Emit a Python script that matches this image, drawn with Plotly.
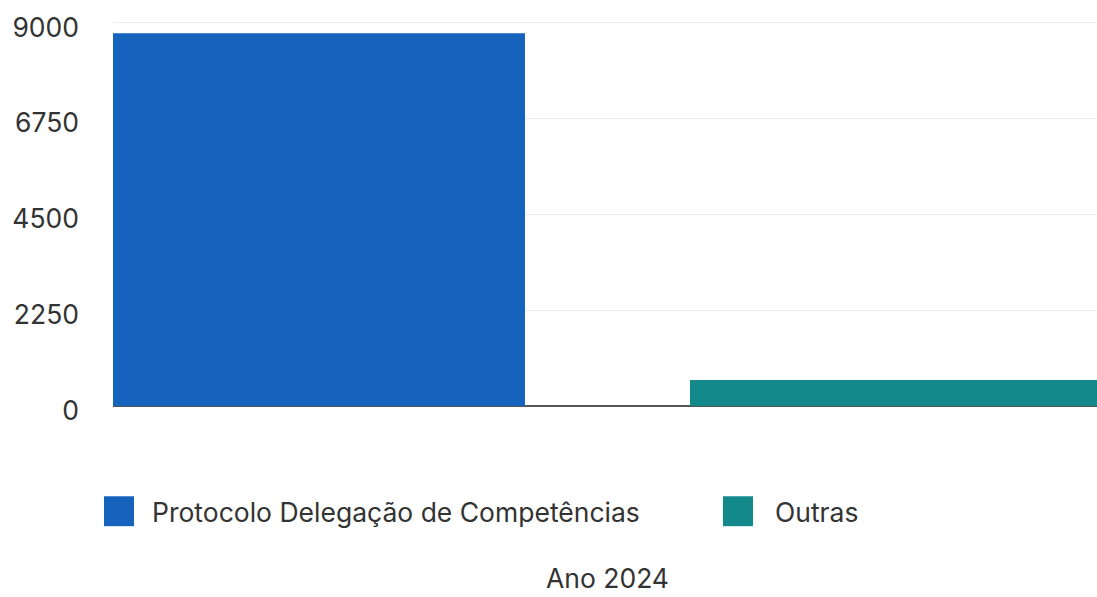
import plotly.graph_objects as go

categories = ["Ano 2024"]
series_names = ["Protocolo Delegação de Competências", "Outras"]
series_values = [[8740], [610]]
series_colors = ["#1663be", "#13898c"]
y_ticks = [0, 2250, 4500, 6750, 9000]

W, H = 1097, 597
L, R, T, B = 113, 0, 20.5, 190.5
PW, PH = W - L - R, H - T - B

def px_x(p):
    return (p - L) / PW

def px_y(p):
    return (H - B - p) / PH

fig = go.Figure()
for name, vals, col in zip(series_names, series_values, series_colors):
    fig.add_trace(go.Bar(x=categories, y=vals, name=name, marker_color=col,
                         marker_line_width=0, showlegend=False))

font_family = "Inter, Roboto, 'Noto Sans', sans-serif"
FS = 26.5

# manual legend (large square swatches)
legend_px = [(104, 150), (723, 773)]
for (sx, tx), name, col in zip(legend_px, series_names, series_colors):
    fig.add_shape(type="rect", xref="paper", yref="paper",
                  x0=px_x(sx), x1=px_x(sx + 30), y0=px_y(527), y1=px_y(497),
                  fillcolor=col, line_width=0)
    fig.add_annotation(xref="paper", yref="paper", x=px_x(tx), y=px_y(513),
                       text=name, showarrow=False, xanchor="left", yanchor="middle",
                       font=dict(family=font_family, size=FS, color="#333333"))

fig.update_layout(
    width=W, height=H,
    margin=dict(l=L, r=R, t=T, b=B, pad=0),
    paper_bgcolor="white", plot_bgcolor="white",
    barmode="group", bargap=0, bargroupgap=0.286,
    font=dict(family=font_family, size=FS, color="#333333"),
    showlegend=False,
)
fig.update_xaxes(range=[-0.4285, 0.4242], showgrid=False, showline=False,
                 ticks="", ticklabelstandoff=154,
                 tickfont=dict(family=font_family, size=FS, color="#333333"))
fig.update_yaxes(range=[0, 9030], tickvals=y_ticks, showgrid=True,
                 gridcolor="#eeeeee", gridwidth=1,
                 zeroline=True, zerolinecolor="#555555", zerolinewidth=2,
                 showline=False, ticks="", ticklabelstandoff=33,
                 ticklabelshift=5, ticklabeloverflow="allow",
                 tickfont=dict(family=font_family, size=FS, color="#333333"))

fig.write_html("out.html", config={"displayModeBar": False},
               post_script="document.body.style.margin='0';document.body.style.overflow='hidden';")
